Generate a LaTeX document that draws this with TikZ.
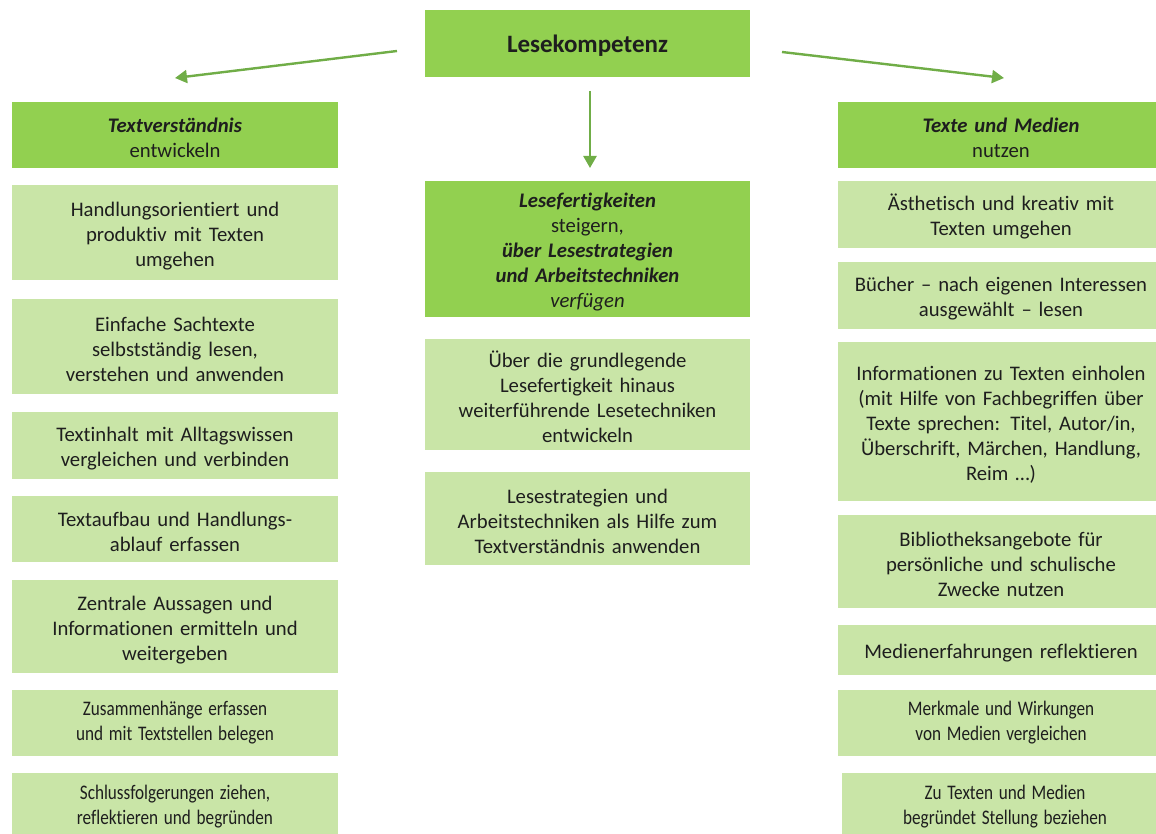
\documentclass[tikz,border=0pt]{standalone}
\usepackage{fontspec}
\setmainfont[Ligatures={NoCommon}]{Carlito}
\newcommand\squeeze[1]{\scalebox{0.83}[1]{\begin{tabular}{@{}c@{}}#1\end{tabular}}}
\usetikzlibrary{arrows.meta}
\definecolor{headgreen}{HTML}{92D050}
\definecolor{itemgreen}{HTML}{C9E5A7}
\definecolor{arrowgreen}{HTML}{70AD47}
\definecolor{textgray}{HTML}{1E1E1E}
\begin{document}
\begin{tikzpicture}[x=1pt, y=-1pt,
    box/.style={inner sep=0pt, text width=322pt, minimum width=326pt, align=center,
        text=textgray, font=\fontsize{20.7}{25}\selectfont,
        execute at begin node={\rule{0pt}{21pt}}},
    headbox/.style={box, fill=headgreen},
    itembox/.style={box, fill=itemgreen},
    link/.style={draw=arrowgreen, line width=2.4pt, -{Triangle[length=12pt, width=13pt]}}]
    \clip (0,0) rectangle (1156,834);

    % main box
    \node[headbox, minimum width=325pt, minimum height=67pt, font=\fontsize{25}{30}\selectfont] (kompetenz) at (587.5,43.5) {\textbf{Lesekompetenz}};

    % left column
    \node[headbox, minimum height=66pt] (verst) at (175,135) {\textbf{\textit{Textverständnis}}\\ entwickeln};
    \node[itembox, minimum height=95pt] (l1) at (175,232.5) {Handlungsorientiert und\\ produktiv mit Texten\\ umgehen};
    \node[itembox, minimum height=95pt] (l2) at (175,346.5) {Einfache Sachtexte\\ selbstständig lesen,\\ verstehen und anwenden};
    \node[itembox, minimum height=67pt] (l3) at (175,445.5) {Textinhalt mit Alltagswissen\\ vergleichen und verbinden};
    \node[itembox, minimum height=66pt] (l4) at (175,529) {Textaufbau und Handlungs-\\ ablauf erfassen};
    \node[itembox, minimum height=93pt] (l5) at (175,626.5) {Zentrale Aussagen und\\ Informationen ermitteln und\\ weitergeben};
    \node[itembox, minimum height=66pt] (l6) at (175,723) {\squeeze{Zusammenhänge erfassen\\ und mit Textstellen belegen}};
    \node[itembox, minimum height=67pt] (l7) at (175,806.5) {\squeeze{Schlussfolgerungen ziehen,\\ reflektieren und begründen}};

    % middle column
    \node[headbox, minimum width=325pt, minimum height=136pt] (fertig) at (587.5,249)
        {\textbf{\textit{Lesefertigkeiten}}\\ steigern,\\ \textbf{\textit{über Lesestrategien}}\\ \textbf{\textit{und Arbeitstechniken}}\\ \textit{verfügen}};
    \node[itembox, minimum width=325pt, minimum height=111pt] (m1) at (587.5,394.5) {Über die grundlegende\\ Lesefertigkeit hinaus\\ weiterführende Lesetechniken\\ entwickeln};
    \node[itembox, minimum width=325pt, minimum height=93pt] (m2) at (587.5,518.5) {Lesestrategien und\\ Arbeitstechniken als Hilfe zum\\ Textverständnis anwenden};

    % right column
    \node[headbox, minimum height=66pt] (medien) at (1001,135) {\textbf{\textit{Texte und Medien}}\\ nutzen};
    \node[itembox, minimum height=67pt] (r1) at (1001,214.5) {Ästhetisch und kreativ mit\\ Texten umgehen};
    \node[itembox, minimum height=67pt] (r2) at (1001,295.5) {Bücher – nach eigenen Interessen\\ ausgewählt – lesen};
    \node[itembox, minimum height=159pt] (r3) at (1001,421.5) {Informationen zu Texten einholen\\ (mit Hilfe von Fachbegriffen über\\ Texte sprechen: Titel, Autor/in,\\ Überschrift, Märchen, Handlung,\\ Reim …)};
    \node[itembox, minimum height=93pt] (r4) at (1001,561.5) {Bibliotheksangebote für\\ persönliche und schulische\\ Zwecke nutzen};
    \node[itembox, minimum height=50pt] (r5) at (1001,650) {Medienerfahrungen reflektieren};
    \node[itembox, minimum height=66pt] (r6) at (1001,723) {\squeeze{Merkmale und Wirkungen\\ von Medien vergleichen}};
    \node[itembox, minimum height=67pt] (r7) at (1005,806.5) {\squeeze{Zu Texten und Medien\\ begründet Stellung beziehen}};

    % arrows
    \coordinate (lfrom) at (397,51);
    \coordinate (lto) at (175,78);
    \coordinate (mfrom) at (590,91);
    \coordinate (mto) at (590,168);
    \coordinate (rfrom) at (782,52);
    \coordinate (rto) at (1004,78);
    \draw[link] (lfrom) -- (lto);
    \draw[link] (mfrom) -- (mto);
    \draw[link] (rfrom) -- (rto);

\end{tikzpicture}
\end{document}
